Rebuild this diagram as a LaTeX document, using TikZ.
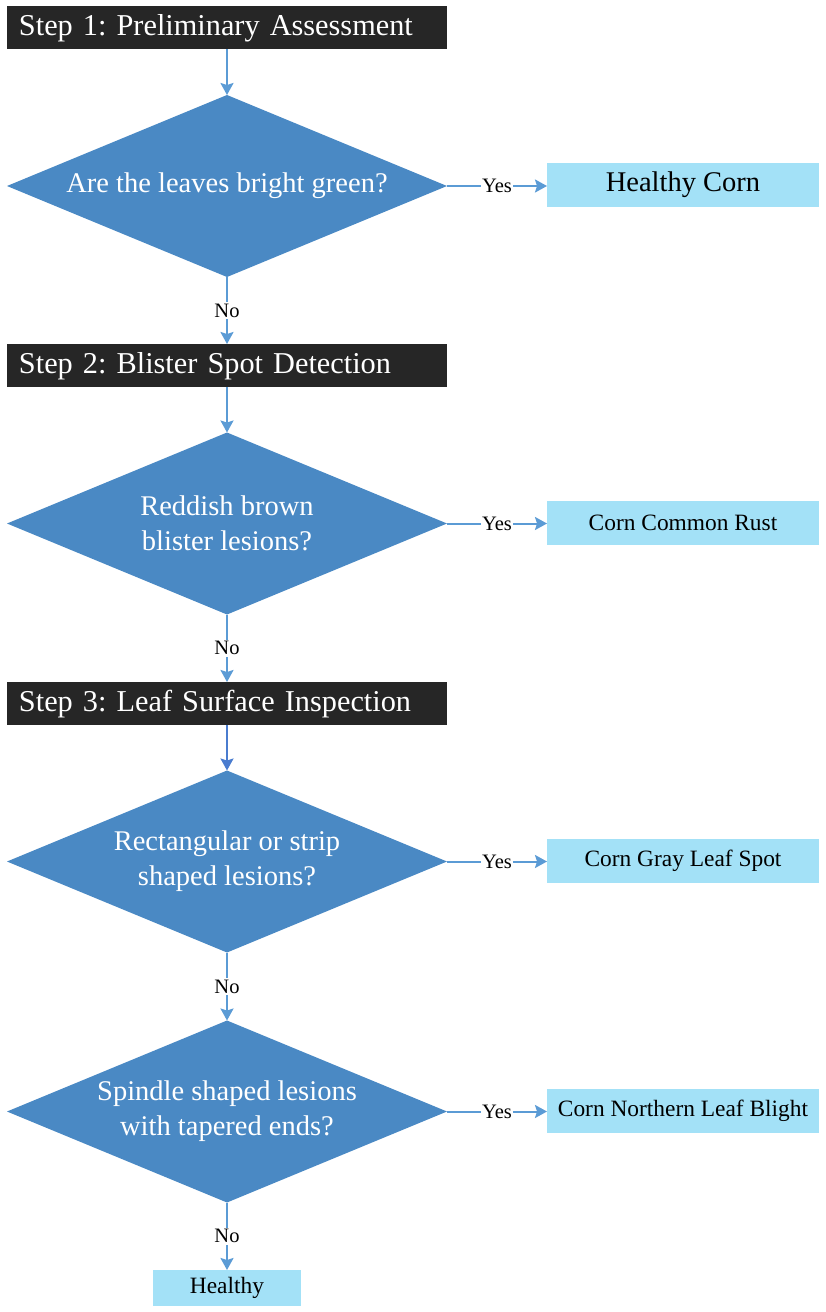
\documentclass[tikz,border=0pt]{standalone}
\usepackage{fontspec}
\setmainfont{Liberation Serif}
\usetikzlibrary{shapes.geometric,arrows.meta}
\definecolor{stepbg}{HTML}{262626}
\definecolor{diafill}{HTML}{4A89C4}
\definecolor{resfill}{HTML}{A3E1F7}
\definecolor{arrowc}{HTML}{5B9BD5}
\definecolor{arrowd}{HTML}{4A7CCF}
\frenchspacing
\begin{document}
\begin{tikzpicture}[x=1pt,y=-1pt,
  stepbox/.style={rectangle,fill=stepbg,text=white,minimum width=440pt,minimum height=43pt,
    inner xsep=12pt,text width=416pt,align=left,font=\fontsize{30.3}{32}\selectfont,outer sep=0pt,
    text height=21pt,text depth=6pt},
  decision/.style={diamond,shape aspect=2.42,fill=diafill,text=white,minimum width=440pt,minimum height=182pt,
    inner sep=0pt,outer sep=0pt,align=center,font=\fontsize{28.5}{35}\selectfont},
  result/.style={rectangle,fill=resfill,minimum width=272pt,minimum height=44pt,outer sep=0pt,
    font=\fontsize{23.4}{26}\selectfont},
  flow/.style={draw=arrowc,line width=2pt,-{Stealth[length=12pt,width=13pt,inset=2pt]}},
  lab/.style={fill=white,inner sep=1.5pt,font=\fontsize{20.5}{22}\selectfont}
]
\useasboundingbox (0,0) rectangle (825,1312);
\node[stepbox] (s1) at (227,27.5) {Step 1: Preliminary Assessment};
\node[decision] (d1) at (227,186) {Are the leaves bright green?};
\node[result,font=\fontsize{28.5}{30}\selectfont] (r1) at (683,185) {Healthy Corn};
\node[stepbox] (s2) at (227,365.5) {Step 2: Blister Spot Detection};
\node[decision] (d2) at (227,523.5) {Reddish brown\\blister lesions?};
\node[result] (r2) at (683,523) {Corn Common Rust};
\node[stepbox] (s3) at (227,703.5) {Step 3: Leaf Surface Inspection};
\node[decision] (d3) at (227,861.5) {Rectangular or strip\\shaped lesions?};
\node[result] (r3) at (683,861) {Corn Gray Leaf Spot};
\node[decision] (d4) at (227,1111.5) {Spindle shaped lesions\\with tapered ends?};
\node[result] (r4) at (683,1111) {Corn Northern Leaf Blight};
\node[result,minimum width=148pt,minimum height=36pt] (h) at (227,1288) {Healthy};

\draw[flow] (s1.south) -- (d1.north);
\draw[flow] (d1.south) -- node[lab] {No} (s2.north);
\draw[flow] (d1.east) -- node[lab] {Yes} (r1.west |- d1.east);
\draw[flow] (s2.south) -- (d2.north);
\draw[flow] (d2.south) -- node[lab] {No} (s3.north);
\draw[flow] (d2.east) -- node[lab] {Yes} (r2.west |- d2.east);
\draw[flow,draw=arrowd] (s3.south) -- (d3.north);
\draw[flow] (d3.south) -- node[lab] {No} (d4.north);
\draw[flow] (d3.east) -- node[lab] {Yes} (r3.west |- d3.east);
\draw[flow] (d4.east) -- node[lab] {Yes} (r4.west |- d4.east);
\draw[flow] (d4.south) -- node[lab] {No} (h.north);
\end{tikzpicture}
\end{document}
